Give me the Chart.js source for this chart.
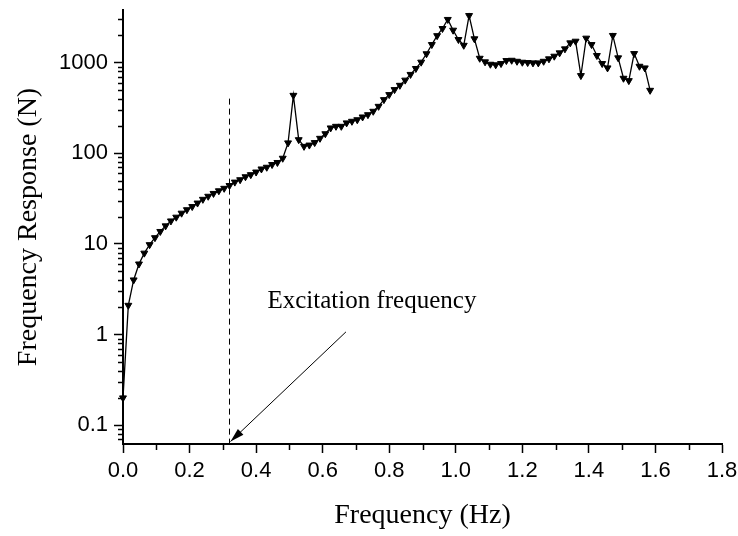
<!DOCTYPE html>
<html lang="en">
<head>
<meta charset="UTF-8" />
<title>Frequency Response</title>
<script src="https://cdn.jsdelivr.net/npm/chart.js"></script>
<style>
  html, body { margin: 0; padding: 0; background: #fff; }
  #wrap { width: 738px; height: 536px; }
</style>
</head>
<body>
<div id="wrap"><canvas id="chart" width="738" height="536"></canvas></div>
<script>
// frequency bins (Hz)
const frequencies = [
  0.000, 0.016, 0.032, 0.048, 0.064, 0.080, 0.096, 0.112, 0.128, 0.144,
  0.160, 0.176, 0.192, 0.208, 0.224, 0.240, 0.256, 0.272, 0.288, 0.304,
  0.320, 0.336, 0.352, 0.368, 0.384, 0.400, 0.416, 0.432, 0.448, 0.464,
  0.480, 0.496, 0.512, 0.528, 0.544, 0.560, 0.576, 0.592, 0.608, 0.624,
  0.640, 0.656, 0.672, 0.688, 0.704, 0.720, 0.736, 0.752, 0.768, 0.784,
  0.800, 0.816, 0.832, 0.848, 0.864, 0.880, 0.896, 0.912, 0.928, 0.944,
  0.960, 0.976, 0.992, 1.008, 1.024, 1.040, 1.056, 1.072, 1.088, 1.104,
  1.120, 1.136, 1.152, 1.168, 1.184, 1.200, 1.216, 1.232, 1.248, 1.264,
  1.280, 1.296, 1.312, 1.328, 1.344, 1.360, 1.376, 1.392, 1.408, 1.424,
  1.440, 1.456, 1.472, 1.488, 1.504, 1.520, 1.536, 1.552, 1.568, 1.584
];

// response amplitude (N)
const responses = [
  0.2, 2.1, 4.0, 6.0, 7.9, 9.8, 11.7, 13.7, 15.8, 17.9,
  19.7, 21.8, 23.8, 25.8, 28.2, 31, 33.5, 36, 38.5, 41,
  44, 48, 51, 55, 58, 62, 67, 70, 75, 79,
  88, 130, 435, 141, 119, 123, 131, 146, 164, 190,
  198, 198, 216, 225, 234, 251, 266, 290, 329, 390,
  443, 503, 561, 640, 740, 860, 1010, 1250, 1580, 1980,
  2375, 2990, 2275, 1795, 1550, 3300, 1828, 1115, 1018, 958,
  944, 975, 1052, 1060, 1033, 1008, 1000, 992, 992, 1033,
  1099, 1175, 1280, 1416, 1650, 1720, 718, 1858, 1580, 1195,
  975, 873, 1990, 1127, 671, 632, 1256, 910, 873, 494
];

const xTicks = [0, 0.2, 0.4, 0.6, 0.8, 1.0, 1.2, 1.4, 1.6, 1.8];
const xMinorTicks = [0.1, 0.3, 0.5, 0.7, 0.9, 1.1, 1.3, 1.5, 1.7];
const yTicks = [0.1, 1, 10, 100, 1000];

const excitationFreq = 0.32;
const excitationTop = 400;
const noteText = "Excitation frequency";
const notePos = { x: 0.748, y: 2.3 };
const arrowFrom = { x: 0.67, y: 1.07 };
const arrowTo = { x: 0.323, y: 0.066 };

const tickFont = { family: "'Liberation Sans', Arial, sans-serif", size: 22 };
const titleFont = { family: "'Liberation Serif', 'Times New Roman', serif", size: 28 };

// minor ticks + dashed marker + arrow note
const extrasPlugin = {
  id: "extras",
  afterDraw(chart) {
    const { ctx, chartArea, scales: { x, y } } = chart;
    ctx.save();
    ctx.strokeStyle = "#000";
    ctx.fillStyle = "#000";

    // minor ticks
    ctx.lineWidth = 1.5;
    ctx.beginPath();
    xMinorTicks.forEach(v => {
      const px = Math.round(x.getPixelForValue(v)) + 0.5;
      ctx.moveTo(px, chartArea.bottom);
      ctx.lineTo(px, chartArea.bottom + 6);
    });
    yTicks.forEach(d => {
      for (let m = 2; m <= 9; m++) {
        const v = d * m;
        if (v < y.min || v > y.max) continue;
        const py = Math.round(y.getPixelForValue(v)) + 0.5;
        ctx.moveTo(chartArea.left - 5, py);
        ctx.lineTo(chartArea.left, py);
      }
    });
    // below first major tick
    for (let m = 6; m <= 9; m++) {
      const v = yTicks[0] * m / 10;
      if (v < y.min) continue;
      const py = Math.round(y.getPixelForValue(v)) + 0.5;
      ctx.moveTo(chartArea.left - 5, py);
      ctx.lineTo(chartArea.left, py);
    }
    ctx.stroke();

    // dashed excitation line
    const ex = Math.round(x.getPixelForValue(excitationFreq)) + 0.5;
    ctx.lineWidth = 1;
    ctx.setLineDash([6, 4]);
    ctx.beginPath();
    ctx.moveTo(ex, y.getPixelForValue(excitationTop));
    ctx.lineTo(ex, chartArea.bottom);
    ctx.stroke();
    ctx.setLineDash([]);

    // arrow
    const x1 = x.getPixelForValue(arrowFrom.x), y1 = y.getPixelForValue(arrowFrom.y);
    const x2 = x.getPixelForValue(arrowTo.x), y2 = y.getPixelForValue(arrowTo.y);
    const ang = Math.atan2(y2 - y1, x2 - x1);
    ctx.lineWidth = 1;
    ctx.beginPath();
    ctx.moveTo(x1, y1);
    ctx.lineTo(x2, y2);
    ctx.stroke();
    const hl = 14, hw = 4;
    ctx.beginPath();
    ctx.moveTo(x2, y2);
    ctx.lineTo(x2 - hl * Math.cos(ang) + hw * Math.sin(ang), y2 - hl * Math.sin(ang) - hw * Math.cos(ang));
    ctx.lineTo(x2 - hl * Math.cos(ang) - hw * Math.sin(ang), y2 - hl * Math.sin(ang) + hw * Math.cos(ang));
    ctx.closePath();
    ctx.fill();

    // note text
    ctx.font = "25px 'Liberation Serif', 'Times New Roman', serif";
    ctx.textAlign = "center";
    ctx.textBaseline = "middle";
    ctx.fillText(noteText, x.getPixelForValue(notePos.x), y.getPixelForValue(notePos.y));
    ctx.restore();
  }
};

function noEdgePadding(s) {
  s.paddingTop = 0;
  s.paddingBottom = 0;
  s.paddingLeft = 0;
  s.paddingRight = 0;
}

new Chart(document.getElementById("chart").getContext("2d"), {
  type: "line",
  data: {
    datasets: [{
      data: frequencies.map((f, i) => ({ x: f, y: responses[i] })),
      borderColor: "#000",
      borderWidth: 1.3,
      pointStyle: "triangle",
      rotation: 180,
      pointRadius: 4,
      pointBackgroundColor: "#000",
      pointBorderColor: "#000",
      pointBorderWidth: 1,
      tension: 0,
      clip: false
    }]
  },
  options: {
    responsive: false,
    animation: false,
    devicePixelRatio: 1,
    layout: { padding: { top: 10, right: 16, left: 0, bottom: 0 } },
    plugins: { legend: { display: false }, tooltip: { enabled: false } },
    scales: {
      x: {
        type: "linear",
        min: 0,
        max: 1.8,
        afterBuildTicks: s => { s.ticks = xTicks.map(v => ({ value: v })); },
        afterFit: s => { s.height = 92; noEdgePadding(s); },
        ticks: {
          callback: v => Number(v).toFixed(1),
          font: tickFont,
          color: "#000",
          padding: 5,
          maxRotation: 0,
          autoSkip: false
        },
        grid: { drawOnChartArea: false, drawTicks: true, tickLength: 9, tickWidth: 1.5, tickColor: "#000" },
        border: { display: true, color: "#000", width: 2 },
        title: { display: true, text: "Frequency (Hz)", font: titleFont, color: "#000", padding: { top: 0, bottom: 4 } }
      },
      y: {
        type: "logarithmic",
        min: 0.062,
        max: 3800,
        afterBuildTicks: s => { s.ticks = yTicks.map(v => ({ value: v })); },
        afterFit: s => { s.width = 123; noEdgePadding(s); },
        ticks: {
          callback: v => String(v),
          font: tickFont,
          color: "#000",
          padding: 6,
          autoSkip: false
        },
        grid: { drawOnChartArea: false, drawTicks: true, tickLength: 9, tickWidth: 1.5, tickColor: "#000" },
        border: { display: true, color: "#000", width: 2 },
        title: { display: true, text: "Frequency Response (N)", font: titleFont, color: "#000", padding: { top: 12, bottom: 0 } }
      }
    }
  },
  plugins: [extrasPlugin]
});
</script>
</body>
</html>
